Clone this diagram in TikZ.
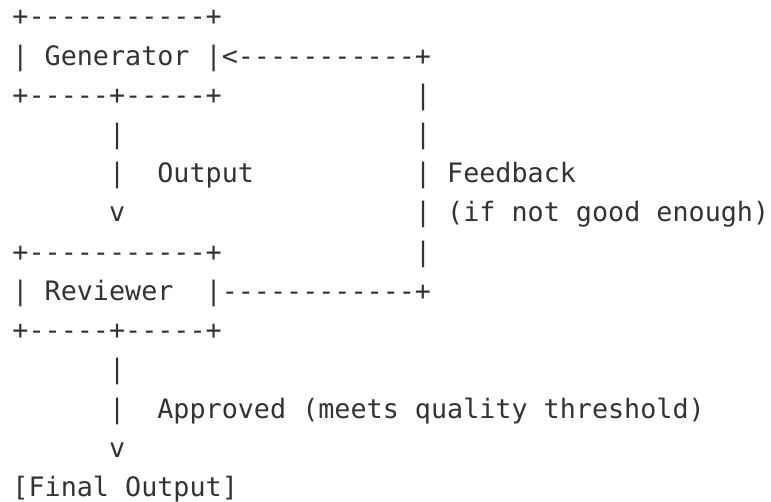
\documentclass[tikz,border=0pt]{standalone}
\usepackage{fontspec}
\setmonofont{DejaVu Sans Mono}
\definecolor{ink}{HTML}{333333}
\tikzset{txt/.style={inner sep=0pt, outer sep=0pt, anchor=base west, text=ink,
  font=\ttfamily\fontsize{26.74pt}{32pt}\selectfont}}
\newcommand\asciicell[4]{\node[txt] (#1) at ({12.5pt+#2*16.1pt},{-26pt-#3*39.2pt}) {#4};}
\begin{document}
\begin{tikzpicture}
\useasboundingbox (0,0) rectangle (771pt,-502pt);
\asciicell{r0a}{0}{0}{+-----------+}
\asciicell{r1a}{0}{1}{|}
\asciicell{gen}{2}{1}{Generator}
\asciicell{r1c}{12}{1}{|<-----------+}
\asciicell{r2a}{0}{2}{+-----+-----+}
\asciicell{r2b}{25}{2}{|}
\asciicell{r3a}{6}{3}{|}
\asciicell{r3b}{25}{3}{|}
\asciicell{r4a}{6}{4}{|}
\asciicell{out}{9}{4}{Output}
\asciicell{r4c}{25}{4}{|}
\asciicell{fb}{27}{4}{Feedback}
\asciicell{r5a}{6}{5}{v}
\asciicell{r5b}{25}{5}{|}
\asciicell{fb2}{27}{5}{(if not good enough)}
\asciicell{r6a}{0}{6}{+-----------+}
\asciicell{r6b}{25}{6}{|}
\asciicell{r7a}{0}{7}{|}
\asciicell{rev}{2}{7}{Reviewer}
\asciicell{r7c}{12}{7}{|------------+}
\asciicell{r8a}{0}{8}{+-----+-----+}
\asciicell{r9a}{6}{9}{|}
\asciicell{r10a}{6}{10}{|}
\asciicell{appr}{9}{10}{Approved (meets quality threshold)}
\asciicell{r11a}{6}{11}{v}
\asciicell{fin}{0}{12}{[Final Output]}
\end{tikzpicture}
\end{document}
